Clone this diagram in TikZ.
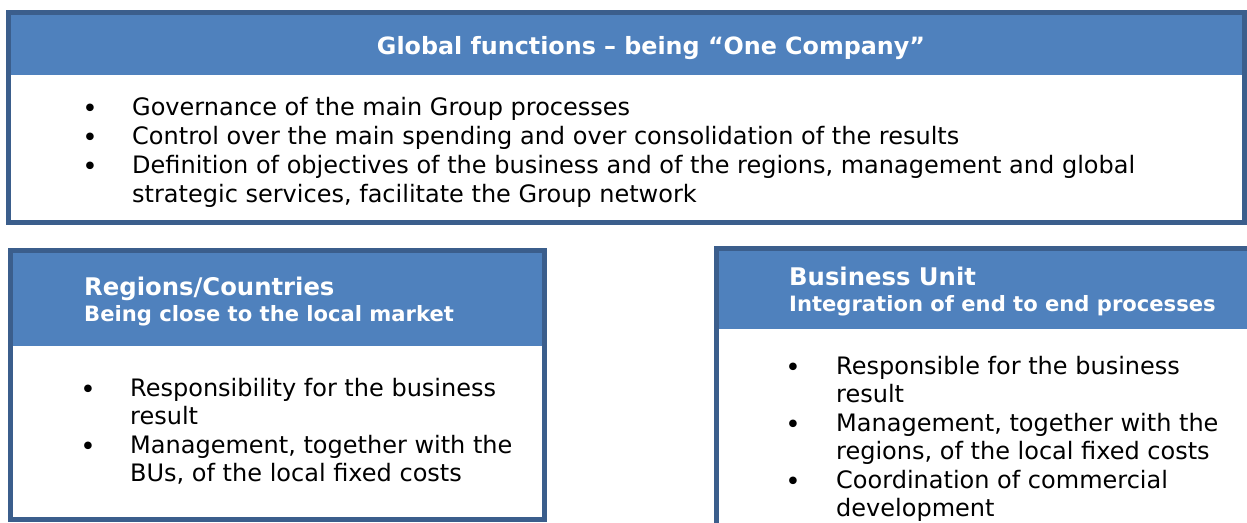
\documentclass[tikz,border=0pt]{standalone}
\usepackage{fontspec}
\setmainfont{DejaVu Sans}
\definecolor{hdrblue}{HTML}{4F81BD}
\definecolor{edgeblue}{HTML}{3B5E8C}

\begin{document}
\begin{tikzpicture}[x = 1pt, y = -1pt,
    frame/.style = {draw = edgeblue, line width = 5pt},
    head/.style = {fill = hdrblue},
    title/.style = {anchor = base, inner sep = 0pt, text = white, font = \bfseries\fontsize{23.8}{28}\selectfont},
    htop/.style = {anchor = base west, inner sep = 0pt, text = white, font = \bfseries\fontsize{24.3}{28}\selectfont},
    hsub/.style = {anchor = base west, inner sep = 0pt, text = white, font = \bfseries\fontsize{21.1}{25}\selectfont},
    item/.style = {anchor = base west, inner sep = 0pt, font = \fontsize{24}{28.5}\selectfont},
    dot/.style = {anchor = base, inner sep = 0pt, yshift = -2pt, font = \fontsize{26}{28.5}\selectfont}]
  \useasboundingbox (0,0) rectangle (1247,522);
  \clip (0,0) rectangle (1247,522);
  % global functions
  \fill[head] (8,12) rectangle (1245,75);
  \draw[frame] (8.5,12.5) rectangle (1244.5,222.5);
  \node[title] (gtitle) at (651,54) {Global functions – being “One Company”};
  \foreach \y in {115, 144.2, 173.4}
    \node[dot] at (90,\y) {•};
  \node[item] (g1) at (132,115) {Governance of the main Group processes};
  \node[item] (g2) at (132,144.2) {Control over the main spending and over consolidation of the results};
  \node[item] (g3) at (132,173.4) {Definition of objectives of the business and of the regions, management and global};
  \node[item] (g4) at (132,202.6) {strategic services, facilitate the Group network};
  % regions
  \fill[head] (10,250) rectangle (545,346);
  \draw[frame] (10.5,250.5) rectangle (544.5,519.5);
  \node[htop] (rtitle) at (84,295) {Regions/Countries};
  \node[hsub] (rsub) at (84,321) {Being close to the local market};
  \foreach \y in {396, 453}
    \node[dot] at (88,\y) {•};
  \node[item] (r1) at (130,396) {Responsibility for the business};
  \node[item] (r2) at (130,424.5) {result};
  \node[item] (r3) at (130,453) {Management, together with the};
  \node[item] (r4) at (130,481.5) {BUs, of the local fixed costs};
  % business unit
  \fill[head] (716,248) rectangle (1247,329);
  \draw[frame] (716.5,248.5) rectangle (1250,540);
  \node[htop] (btitle) at (789,285) {Business Unit};
  \node[hsub] (bsub) at (789,311) {Integration of end to end processes};
  \foreach \y in {374, 431, 488}
    \node[dot] at (793,\y) {•};
  \node[item] (b1) at (836,374) {Responsible for the business};
  \node[item] (b2) at (836,402.5) {result};
  \node[item] (b3) at (836,431) {Management, together with the};
  \node[item] (b4) at (836,459.5) {regions, of the local fixed costs};
  \node[item] (b5) at (836,488) {Coordination of commercial};
  \node[item] (b6) at (836,516.5) {development};
\end{tikzpicture}
\end{document}
